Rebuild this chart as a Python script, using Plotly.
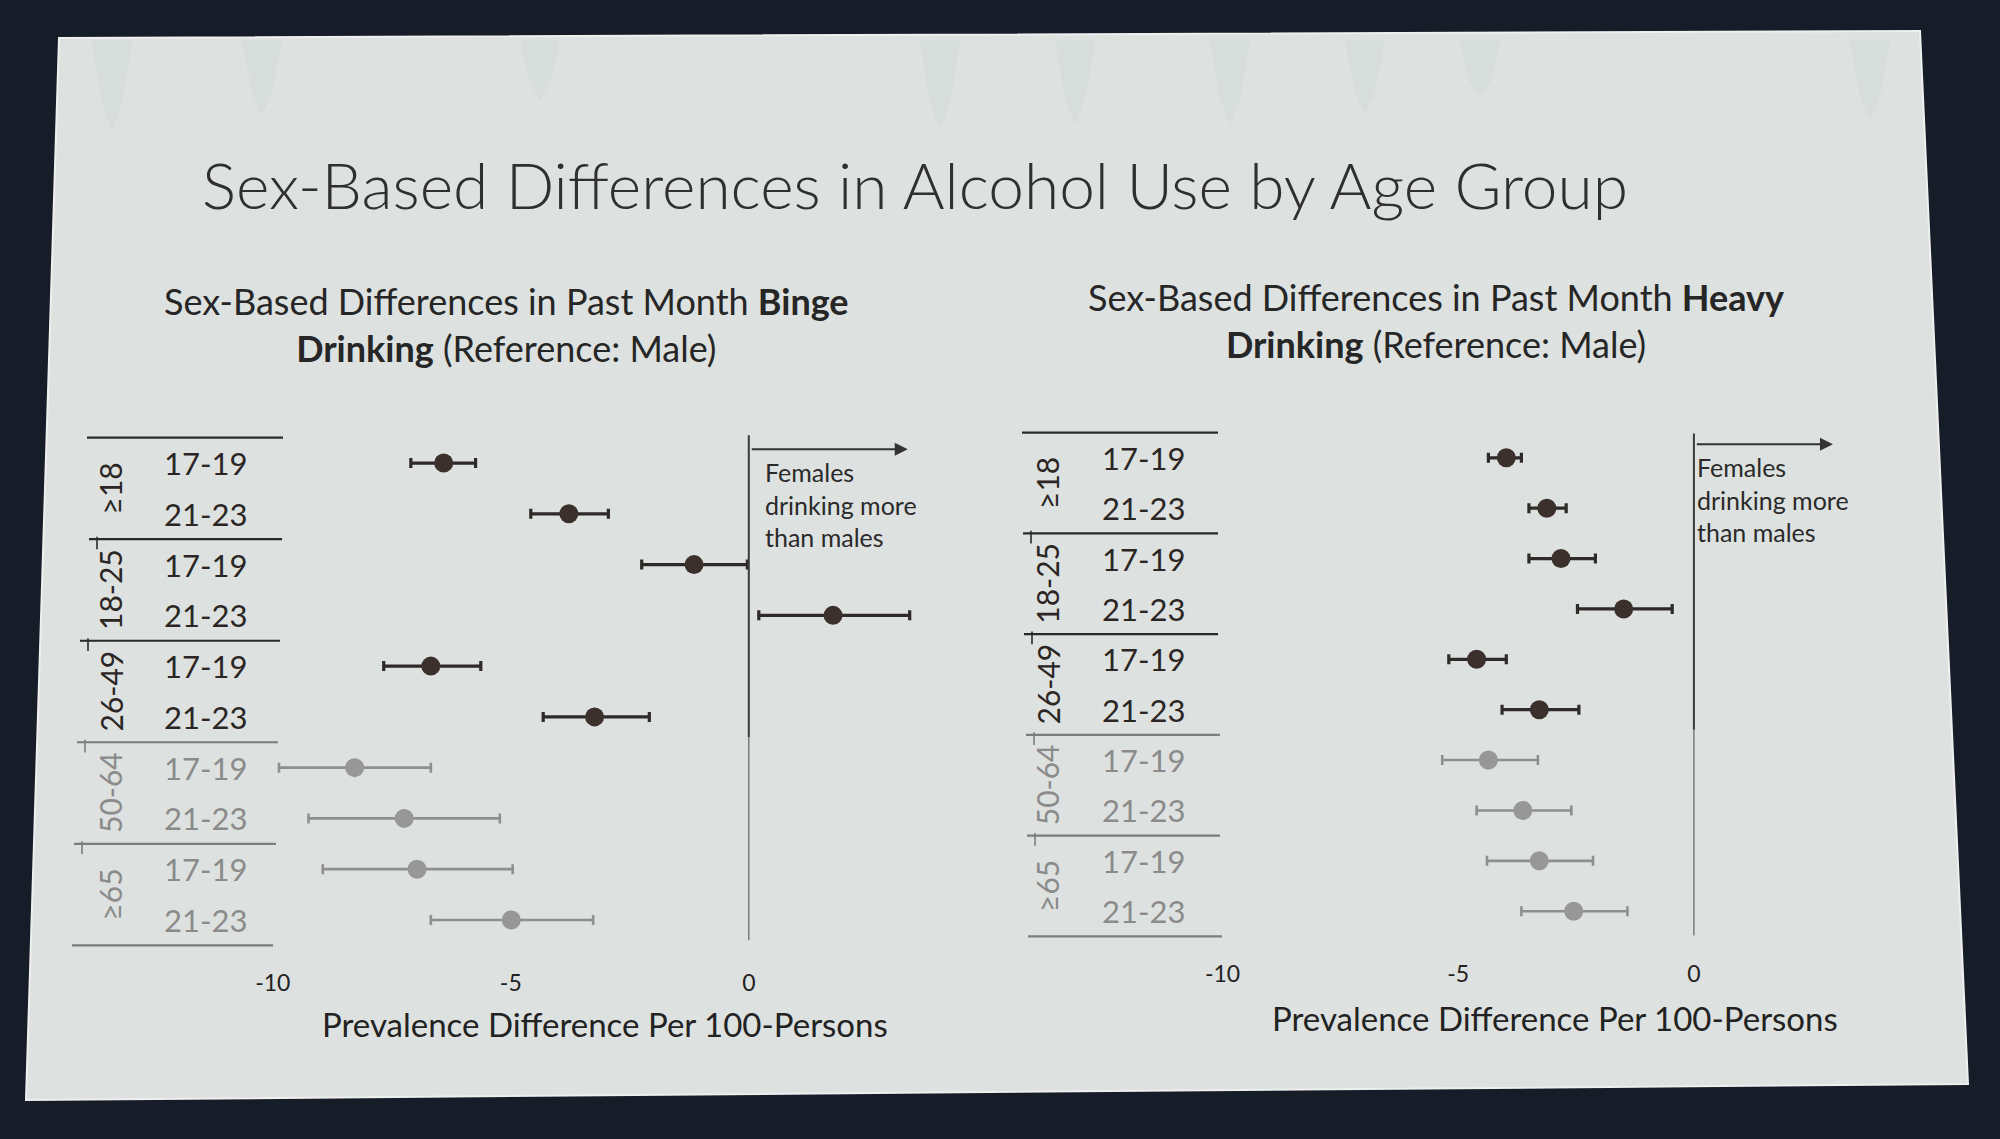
import plotly.graph_objects as go

# ---- data ----
groups = ["≥18", "18-25", "26-49", "50-64", "≥65"]
ages = ["17-19", "21-23"]

binge_est = [-6.41, -3.78, -1.15, 1.77, -6.68, -3.24, -8.28, -7.24, -6.97, -4.99]
binge_lo = [-7.10, -4.58, -2.25, 0.21, -7.67, -4.32, -9.87, -9.25, -8.95, -6.68]
binge_hi = [-5.74, -2.95, -0.03, 3.38, -5.63, -2.09, -6.68, -5.23, -4.96, -3.27]

heavy_est = [-3.98, -3.12, -2.82, -1.49, -4.61, -3.28, -4.36, -3.63, -3.28, -2.55]
heavy_lo = [-4.36, -3.50, -3.50, -2.47, -5.20, -4.07, -5.34, -4.61, -4.39, -3.66]
heavy_hi = [-3.66, -2.71, -2.09, -0.46, -3.98, -2.44, -3.31, -2.60, -2.14, -1.41]

n_dark_groups = 3  # first three age groups drawn dark, the rest grey
x_ticks = [-10, -5, 0]
x_tick_text = ["-10", "-5", "0"]

W, H = 2000, 1139
FONT = "Lato"
DARK = "#2b2624"
GREY = "#8b8b8b"
DOT_DARK = "#3b302c"
DOT_GREY = "#979797"


def px(x, y):
    # pixel -> paper coords
    return x / W, 1 - y / H


rows = list(range(len(groups) * len(ages)))
row_age = [ages[i % 2] for i in rows]
row_dark = [i // 2 < n_dark_groups for i in rows]

fig = go.Figure()

# slide background (slightly skewed like the photo)
corners = [(59, 38), (1920, 31), (1968, 1084), (26, 1100)]
path = "M " + " L ".join(f"{px(x, y)[0]:.4f},{px(x, y)[1]:.4f}" for x, y in corners) + " Z"
fig.add_shape(type="path", path=path, xref="paper", yref="paper",
              fillcolor="#dde1df", line=dict(color="#eef0ee", width=2), layer="below")

# faint watercolor drips along the top of the slide
drips = [(112, 40, 90), (262, 40, 75), (540, 40, 60), (940, 40, 90), (1075, 40, 85),
         (1230, 40, 85), (1365, 40, 75), (1480, 40, 60), (1870, 40, 80)]
for cx, top, length in drips:
    pts = [(cx - 20, top), (cx + 20, top), (cx + 10, top + length * 0.7), (cx, top + length),
           (cx - 10, top + length * 0.7)]
    p = "M " + " L ".join(f"{px(x, y)[0]:.4f},{px(x, y)[1]:.4f}" for x, y in pts) + " Z"
    fig.add_shape(type="path", path=p, xref="paper", yref="paper",
                  fillcolor="rgba(150,185,175,0.09)", line=dict(width=0), layer="below")


def add_panel(est, lo, hi, xa, ya):
    for dark in (True, False):
        idx = [i for i in rows if row_dark[i] == dark]
        fig.add_trace(go.Scatter(
            x=[est[i] for i in idx], y=idx, mode="markers",
            xaxis=xa, yaxis=ya, showlegend=False,
            marker=dict(size=19, color=DOT_DARK if dark else DOT_GREY),
            error_x=dict(type="data", symmetric=False,
                         array=[hi[i] - est[i] for i in idx],
                         arrayminus=[est[i] - lo[i] for i in idx],
                         color="#2e2a28" if dark else "#8f8f8f",
                         thickness=3.2 if dark else 2.6, width=5),
        ))


add_panel(binge_est, binge_lo, binge_hi, "x", "y")
add_panel(heavy_est, heavy_lo, heavy_hi, "x2", "y2")

axis_x = dict(range=[-10.5, 4.5], tickvals=x_ticks, ticktext=x_tick_text, showgrid=False,
              zeroline=False, showline=False, ticks="outside", ticklen=4,
              tickcolor="rgba(0,0,0,0)",
              tickfont=dict(family=FONT, size=23, color="#222"))
axis_y = dict(range=[9.75, -0.75], showgrid=False, zeroline=False, showline=False,
              showticklabels=False)

fig.update_layout(
    width=W, height=H, margin=dict(l=0, r=0, t=0, b=0),
    paper_bgcolor="#161c28", plot_bgcolor="rgba(0,0,0,0)",
    xaxis=dict(domain=[249 / W, 963 / W], anchor="y", **axis_x),
    yaxis=dict(domain=[1 - 958 / H, 1 - 425 / H], anchor="x", **axis_y),
    xaxis2=dict(domain=[1199 / W, 1906 / W], anchor="y2", **axis_x),
    yaxis2=dict(domain=[1 - 949 / H, 1 - 420 / H], anchor="x2", **axis_y),
)


def paper_text(cx, cy, text, size, color="#262626", weight=None):
    font = dict(family=FONT, size=size, color=color)
    if weight:
        font["weight"] = weight
    fig.add_annotation(x=px(cx, 0)[0], y=px(0, cy)[1], xref="paper", yref="paper",
                       xanchor="center", yanchor="middle", text=text, showarrow=False,
                       font=font)


# title and panel headings
paper_text(915, 184, "Sex-Based Differences in Alcohol Use by Age Group", 64, "#2f2f2f", 300)
paper_text(506, 324, "Sex-Based Differences in Past Month <b>Binge</b><br>"
                     "<b>Drinking</b> (Reference: Male)", 36)
paper_text(1436, 320, "Sex-Based Differences in Past Month <b>Heavy</b><br>"
                      "<b>Drinking</b> (Reference: Male)", 36)

# x axis titles
paper_text(605, 1024, "Prevalence Difference Per 100-Persons", 33, "#222")
paper_text(1555, 1018, "Prevalence Difference Per 100-Persons", 33, "#222")

# zero reference lines, arrow and note
for xa, ya, top, bottom, arrow_end, note_x in [("x", "y", -0.55, 9.4, 3.34, 0.3),
                                               ("x2", "y2", -0.48, 9.48, 2.95, 0.03)]:
    fig.add_shape(type="line", xref=xa, yref=ya, x0=0, x1=0, y0=top, y1=5.4,
                  line=dict(color="#3a3a3a", width=2))
    fig.add_shape(type="line", xref=xa, yref=ya, x0=0, x1=0, y0=5.4, y1=bottom,
                  line=dict(color="#6a6a6a", width=1.3))
    fig.add_annotation(xref=xa, yref=ya, axref=xa, ayref=ya, x=arrow_end, y=-0.27,
                       ax=0.03, ay=-0.27, text="", showarrow=True, arrowhead=2,
                       arrowsize=1.3, arrowwidth=2, arrowcolor="#333")
    fig.add_annotation(xref=xa, yref=ya, x=note_x, y=0.82, xanchor="left", yanchor="middle",
                       text="Females<br>drinking more<br>than males", showarrow=False, align="left",
                       font=dict(family=FONT, size=25, color="#2a2a2a"))

# category table on the left of each panel
for xa, ya, label_x, group_x, seps in [
    ("x", "y", 205, 110, [(87, 283), (89, 282), (80, 280), (77, 278), (74, 276), (72, 273)]),
    ("x2", "y2", 1143, 1047, [(1022, 1218), (1023, 1218), (1024, 1218), (1026, 1220),
                             (1027, 1220), (1028, 1222)]),
]:
    for i in rows:
        fig.add_annotation(x=label_x / W, xref="paper", y=i, yref=ya, text=row_age[i],
                           xanchor="center", yanchor="middle", showarrow=False,
                           font=dict(family=FONT, size=31, color=DARK if row_dark[i] else GREY))
    for g, name in enumerate(groups):
        dark = g < n_dark_groups
        fig.add_annotation(x=group_x / W, xref="paper", y=2 * g + 0.5, yref=ya, text=name,
                           textangle=-90, xanchor="center", yanchor="middle", showarrow=False,
                           font=dict(family=FONT, size=30, color=DARK if dark else GREY))
    for k, (x0, x1) in enumerate(seps):
        col = "#2a2a2a" if k <= 2 else "#7d7d7d"
        fig.add_shape(type="line", xref="paper", yref=ya, x0=x0 / W, x1=x1 / W,
                      y0=2 * k - 0.5, y1=2 * k - 0.5, line=dict(color=col, width=2.2))
        if 0 < k < len(seps) - 1:
            fig.add_shape(type="line", xref="paper", yref=ya, x0=(x0 + 8) / W, x1=(x0 + 8) / W,
                          y0=2 * k - 0.55, y1=2 * k - 0.3, line=dict(color=col, width=1.6))

# the page's default body margin would shift the whole figure by 8px
fig.write_html("out.html", config={"displayModeBar": False},
               post_script="document.body.style.margin='0px';")
